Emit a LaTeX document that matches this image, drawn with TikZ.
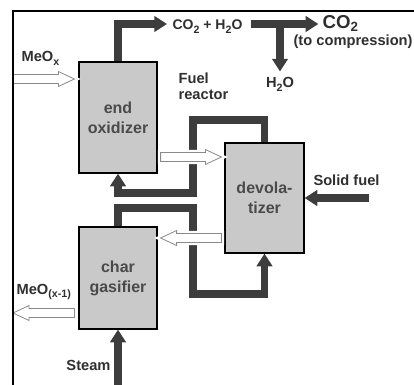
\documentclass[tikz,border=0pt]{standalone}
\usepackage{fontspec}
\setsansfont{Liberation Sans}
\usepackage{tikz}
\usetikzlibrary{arrows.meta,positioning,calc}
\definecolor{Pipe}{HTML}{3D3D3D}
\definecolor{Vessel}{HTML}{C9C9C9}
\definecolor{Rim}{HTML}{8A8A8A}
\definecolor{Ink}{HTML}{2F2F2F}
\definecolor{BoxInk}{HTML}{4A4A4A}
% open (white) flow arrow between two points on one level
\newcommand{\hollowarrow}[2]{%
  \path[hollow] let \p1=(#1), \p2=(#2), \p3=($(#2)!12pt!(#1)$) in
    (\x1,\y1+3.4pt) -- (\x3,\y1+3.4pt) -- (\x3,\y1+5.6pt) -- (\x2,\y1)
    -- (\x3,\y1-5.6pt) -- (\x3,\y1-3.4pt) -- (\x1,\y1-3.4pt) -- cycle;}
\newcommand{\sub}[1]{\raisebox{-0.45ex}{\fontsize{8}{8}\selectfont#1}}

\begin{document}
\begin{tikzpicture}[x=0.75pt,y=-0.75pt,
  every node/.style={font=\sffamily\bfseries\fontsize{11}{11.5}\selectfont,text=Ink,inner sep=1pt},
  reactor/.style={draw=black,line width=0.9pt,fill=Vessel,minimum width=58.5pt,align=center,
    font=\sffamily\bfseries\fontsize{12}{15}\selectfont,text=BoxInk},
  pipe/.style={draw=Pipe,line width=5.6pt,line join=miter,-{Triangle[length=9.5pt,width=11.5pt]}},
  hollow/.style={draw=Rim,fill=white,line width=0.6pt,preaction={draw=white,line width=4pt}},
  frame/.style={draw=black,line width=1.3pt}
]
\useasboundingbox (0,0) rectangle (414,385);
% vessels
\node[reactor,minimum height=83.25pt] (ox) at (118,117.5) {end\\oxidizer};
\node[reactor,minimum width=59.25pt,minimum height=82.5pt] (dev) at (264.5,198) {devola-\\tizer};
\node[reactor,minimum height=76.5pt] (gas) at (118,278) {char\\gasifier};
% labels
\node[anchor=base west] (meox) at (20,62) {MeO\sub{x}};
\node[anchor=base west] (meored) at (15,294) {MeO\sub{(x-1)}};
\node[anchor=base west,font=\sffamily\bfseries\fontsize{10.5}{11}\selectfont] (mix) at (171,30) {CO\sub{2} + H\sub{2}O};
\node[anchor=base west,font=\sffamily\bfseries\fontsize{14}{15}\selectfont] (co2) at (321,29) {CO\raisebox{-0.3ex}{\fontsize{10}{10}\selectfont 2}};
\node[anchor=base west] (tocomp) at (292,46) {(to compression)};
\node[anchor=base] (h2o) at (280,88) {H\sub{2}O};
\node[anchor=north west,align=left] (fuelr) at (177,71.7) {Fuel\\reactor};
\node[anchor=base] (solid) at (346.5,185) {Solid fuel};
\node[anchor=base] (steam) at (88.5,370) {Steam};
\coordinate (bar) at (0,24);
\coordinate (fuelin) at (369,198);
\coordinate (steamin) at (0,392);
\coordinate (inlet) at (13,79);
\coordinate (outlet) at (13,313);
\coordinate (flowa) at (0,157);
\coordinate (flowb) at (0,238);
% gas and solid streams
\draw[pipe,shorten >=3pt] (ox.north) |- (mix.west|-bar);
\draw[pipe,shorten <=5pt,shorten >=2pt] (mix.east|-bar) -- (co2.west|-bar);
\draw[pipe,shorten >=3.5pt] (h2o.north|-bar) -- (h2o.north);
\draw[pipe] (dev.north) |- (193,120) -- (193,193) -| (ox.south);
\draw[pipe] (gas.north) |- (193,208) -- (193,294) -| (dev.south);
\draw[pipe] (fuelin) -- (dev.east);
\draw[pipe] (gas.south|-steamin) -- (gas.south);
% oxygen carrier
\hollowarrow{inlet}{$(ox.west|-inlet)+(-4,0)$}
\hollowarrow{$(ox.east|-flowa)+(3,0)$}{$(dev.west|-flowa)+(-3,0)$}
\hollowarrow{$(dev.west|-flowb)+(-3,0)$}{$(gas.east|-flowb)+(3,0)$}
\hollowarrow{$(gas.west|-outlet)+(-4,0)$}{outlet}
\draw[frame] (414,11) -| (13,386);
\end{tikzpicture}
\end{document}
